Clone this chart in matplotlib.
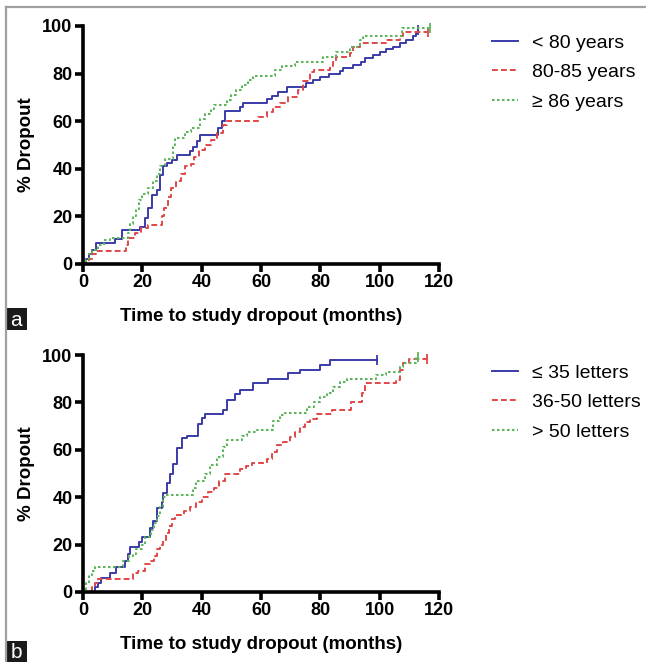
import matplotlib
matplotlib.use("Agg")
import matplotlib.pyplot as plt
from matplotlib.lines import Line2D
from matplotlib.patches import Rectangle

plt.rcParams['font.family'] = ['Liberation Sans', 'DejaVu Sans']

# ---------------- data (panel a: age groups) ----------------
a_labels = ["< 80 years", "80-85 years", "\u2265 86 years"]
a_blue_t = [0, 1, 2, 3, 4.5, 10.8, 13.2, 19.2, 20.9, 22, 23.1, 24.8, 26, 27, 28.2, 29.9, 31.6, 36,
            37.2, 38.5, 39.4, 45.6, 46.8, 48, 52.9, 54, 62, 63.6, 65.8, 68.6, 75.2, 77.5, 79.8, 83,
            86.5, 87.6, 91, 93.8, 95, 97.8, 100, 102.2, 104.5, 106.7, 109, 111.2, 112.4, 113]
a_blue_y = [0, 2, 4, 6, 8.7, 10.7, 14.3, 15.7, 19.2, 23.4, 29, 31, 37.4, 41, 42.4, 43.8, 45.9, 47.5,
            49, 51.5, 54.2, 57, 60, 64.4, 65.8, 67.8, 69.2, 70.6, 72.4, 74.2, 75.9, 77.3, 78.7, 79.8,
            81.1, 82.2, 83.6, 85, 86.4, 87.8, 89.2, 90.2, 91.3, 92.7, 94.1, 95.8, 96.9, 98.5]
a_red_t = [0, 2, 3, 4.5, 14.5, 15, 17.5, 19.5, 22, 26.5, 27.3, 28.5, 29.8, 31.5, 33, 34.5, 36.5, 37.5,
           39, 41.1, 43, 45, 47.3, 48.4, 59, 61.9, 64.2, 66.4, 69.2, 72.5, 74, 76.4, 78, 83.1, 84.3,
           85.4, 89.9, 91, 93.3, 102.2, 106.7, 107.9, 116.3]
a_red_y = [0, 2, 4, 5.6, 8, 11, 13, 15, 16.4, 20, 23.5, 28, 32, 35, 38, 41, 42, 45,
           48, 50, 52, 55, 58.3, 60.2, 61.8, 63.9, 65.8, 67.8, 70.3, 73, 77, 80.5, 81.5, 83, 85,
           87, 88.5, 91, 92.7, 94, 96, 97.6, 97.6]
a_green_t = [0, 1, 2, 3, 5, 7, 9, 15, 16, 17, 18, 19, 20, 22, 23.5, 25, 26, 27.5, 30.5, 31, 34.5,
             36.5, 39.4, 41, 43, 44, 48.5, 50, 51.5, 53.5, 55.5, 57.4, 64.7, 67, 71.4, 80.9, 85.4,
             89.9, 93.3, 94.4, 107.5, 117]
a_green_y = [0, 2, 4, 6, 8, 10, 11, 13, 17, 20, 23, 27, 29.5, 32, 35, 38, 41, 44, 50, 53, 55.5,
             57, 61, 63, 65, 66.6, 69, 71, 73, 75.2, 77.3, 79, 81.5, 83, 85, 87, 89,
             91, 94, 95.6, 99.2, 99.2]

# ---------------- data (panel b: visual acuity groups) ----------------
b_labels = ["\u2264 35 letters", "36-50 letters", "> 50 letters"]
b_blue_t = [0, 4, 5, 6, 9, 11, 14, 15, 16, 19, 20, 22.5, 23.5, 24.8, 26.5, 27, 28.2, 29.3, 30.4,
            31.6, 33.3, 34.9, 38.9, 40, 41.1, 47.3, 48.4, 51.2, 53, 57.4, 62.5, 69.2, 73.1, 79.8,
            83.1, 99.1]
b_blue_y = [0, 2, 4, 6, 8, 10.5, 13, 16, 19, 21, 23, 27, 30, 35.3, 38, 41.6, 45.8, 50, 54,
            60.6, 64.8, 66, 71, 73.5, 75.2, 76.6, 81, 83.5, 85.2, 88, 89.7, 92.3, 93.7, 95.8,
            97.9, 97.9]
b_red_t = [0, 3, 4, 5, 17, 18.5, 21, 22.5, 24, 25, 26, 27, 28, 29, 30, 31, 34, 36, 38, 40, 42,
           44, 46, 48, 53, 55, 57, 62, 63.8, 65.5, 67.5, 69.8, 71.5, 73.1, 74.8, 76.5, 79, 84,
           90.5, 94, 95, 105.6, 107, 108, 110, 116]
b_red_y = [0, 2, 4, 5.3, 8, 9, 12, 13, 15, 18, 20, 22, 25, 28, 31, 32.5, 34, 36, 38, 40, 42,
           44, 47, 50, 52, 53, 54.3, 56, 59.2, 62, 63.5, 65.5, 67.6, 69.7, 71.8, 73, 75, 76.8,
           80, 83.8, 88, 89.4, 93.7, 96.5, 98.2, 98.2]
b_green_t = [0, 1, 2, 3, 4, 13.5, 15.5, 17, 18, 20, 21, 23, 24, 25, 26, 27, 28, 37, 38, 41.1, 42.8,
             45, 47.3, 48.4, 53.5, 55.2, 58.5, 64, 66.4, 68, 75.6, 77.8, 80, 82.2, 84.4, 86.7,
             88.9, 98.9, 102.2, 106.7, 107.9, 112.4, 113]
b_green_y = [0, 4, 7, 9, 10.7, 13, 15, 16, 18, 20, 23, 26, 29, 32, 36, 40, 41, 44, 47, 50, 53.5,
             57, 61, 64, 66, 67.3, 68.4, 72, 74.7, 75.4, 78.2, 80.3, 82.4, 83.8, 86.6, 88.7,
             89.7, 91.5, 93, 95, 96.5, 99.3, 99.3]

x_ticks = [0, 20, 40, 60, 80, 100, 120]
y_ticks = [0, 20, 40, 60, 80, 100]
x_label = "Time to study dropout (months)"
y_label = "% Dropout"

BLUE = "#3b3ba8"
RED = "#e04848"
GREEN = "#5db55d"

fig = plt.figure(figsize=(6.46, 6.62), dpi=100)


def make_panel(rect, series, labels, leg_anchor):
    ax = fig.add_axes(rect)
    styles = [dict(color=BLUE, ls='-', lw=1.4),
              dict(color=RED, ls=(0, (3, 1.6)), lw=1.4),
              dict(color=GREEN, ls=(0, (1.2, 1.2)), lw=1.5)]
    handles = []
    for (t, y), st, lab in zip(series, styles, labels):
        ln, = ax.plot(t, y, drawstyle='steps-post', clip_on=False, label=lab, **st)
        ax.plot([t[-1]], [y[-1]], marker='|', ms=7, mew=1.3, color=st['color'],
                ls='none', clip_on=False)
        handles.append(ln)
    ax.set_xlim(0, 120)
    ax.set_ylim(0, 100)
    ax.set_xticks(x_ticks)
    ax.set_yticks(y_ticks)
    for s in ['top', 'right']:
        ax.spines[s].set_visible(False)
    for s in ['left', 'bottom']:
        ax.spines[s].set_linewidth(2.6)
        ax.spines[s].set_capstyle('projecting')
    ax.tick_params(direction='out', length=6, width=2.6, pad=1.5,
                   labelsize=13)
    for lab in ax.get_xticklabels() + ax.get_yticklabels():
        lab.set_fontweight('bold')
    ax.set_xlabel(x_label, fontsize=13.5, fontweight='bold', labelpad=12)
    ax.set_ylabel(y_label, fontsize=13.5, fontweight='bold', labelpad=5)
    ax.legend(handles=handles, loc='upper left', bbox_to_anchor=leg_anchor,
              bbox_transform=fig.transFigure, frameon=False, fontsize=14,
              handlelength=1.35, handletextpad=0.7, labelspacing=0.62,
              borderpad=0, borderaxespad=0)
    return ax


W, H = 646.0, 662.0
make_panel([83 / W, 1 - 264 / H, 356 / W, 238 / H],
           [(a_blue_t, a_blue_y), (a_red_t, a_red_y), (a_green_t, a_green_y)],
           a_labels, (492 / W, 1 - 34 / H))
make_panel([83 / W, 1 - 592 / H, 356 / W, 237 / H],
           [(b_blue_t, b_blue_y), (b_red_t, b_red_y), (b_green_t, b_green_y)],
           b_labels, (492 / W, 1 - 364 / H))

# frame lines
fig.add_artist(Line2D([6 / W, 6 / W], [0, 1 - 7 / H], color='#a0a0a0', lw=1.6,
                      transform=fig.transFigure))
fig.add_artist(Line2D([6 / W, 1], [1 - 7 / H, 1 - 7 / H], color='#a0a0a0', lw=1.6,
                      transform=fig.transFigure))

# panel letter boxes
for letter, top, h in [("a", 308, 22), ("b", 641, 21)]:
    fig.add_artist(Rectangle((5 / W, 1 - (top + h) / H), 22 / W, h / H,
                             transform=fig.transFigure, facecolor='#1a1a1a',
                             edgecolor='none'))
    fig.text(16 / W, 1 - (top + h / 2 + 1) / H, letter, color='white', fontsize=15,
             ha='center', va='center')

fig.savefig("out.png", dpi=100)
